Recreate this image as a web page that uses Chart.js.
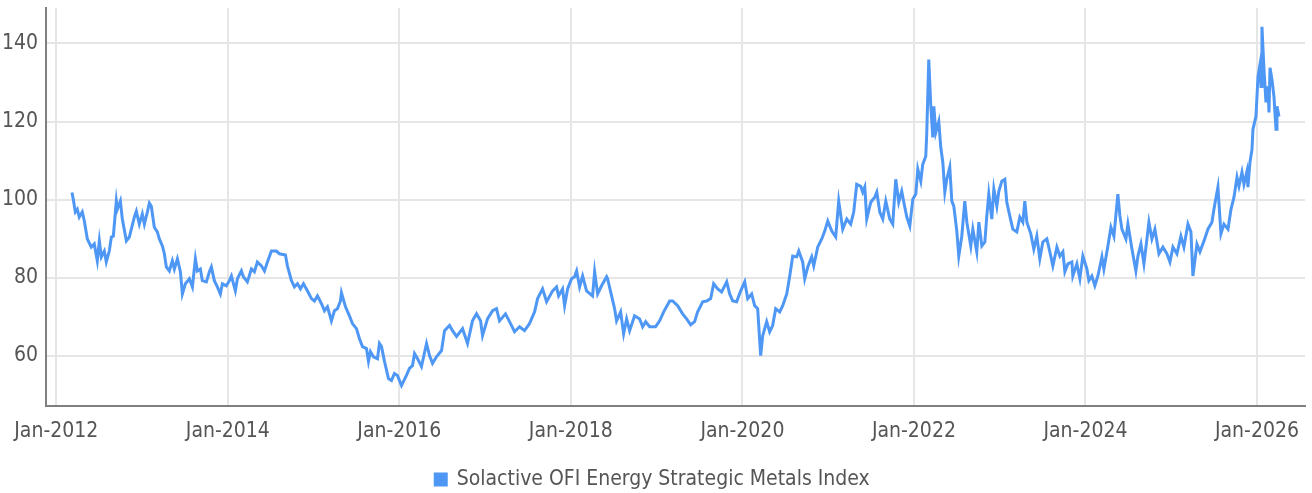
<!DOCTYPE html>
<html lang="en">
<head>
    <meta charset="UTF-8">
    <title>Solactive OFI Energy Strategic Metals Index</title>
    <script src="https://cdn.jsdelivr.net/npm/chart.js"></script>
    <style>
        body {
            margin: 0;
            background: #ffffff;
        }
        .chart-box {
            position: relative;
            width: 1312px;
            height: 493px;
        }
    </style>
</head>
<body>
    <div class="chart-box">
        <canvas id="indexChart"></canvas>
    </div>

    <script>
        // dates as decimal years
        const dates = [
            2012.183, 2012.198, 2012.222, 2012.245, 2012.268, 2012.303, 2012.327, 2012.362, 2012.408, 2012.443,
            2012.478, 2012.502, 2012.525, 2012.560, 2012.583, 2012.618, 2012.642, 2012.665, 2012.700, 2012.712,
            2012.747, 2012.770, 2012.817, 2012.852, 2012.910, 2012.933, 2012.968, 2013.003, 2013.027, 2013.062,
            2013.085, 2013.108, 2013.143, 2013.178, 2013.202, 2013.237, 2013.260, 2013.283, 2013.318, 2013.353,
            2013.377, 2013.412, 2013.447, 2013.470, 2013.505, 2013.552, 2013.587, 2013.622, 2013.645, 2013.680,
            2013.703, 2013.750, 2013.785, 2013.808, 2013.843, 2013.878, 2013.913, 2013.937, 2013.983, 2014.018,
            2014.042, 2014.088, 2014.112, 2014.158, 2014.182, 2014.228, 2014.275, 2014.310, 2014.345, 2014.392,
            2014.427, 2014.462, 2014.508, 2014.567, 2014.602, 2014.672, 2014.695, 2014.742, 2014.777, 2014.812,
            2014.847, 2014.882, 2014.928, 2014.975, 2015.010, 2015.045, 2015.092, 2015.127, 2015.162, 2015.208,
            2015.243, 2015.278, 2015.313, 2015.325, 2015.372, 2015.418, 2015.453, 2015.500, 2015.535, 2015.570,
            2015.617, 2015.640, 2015.663, 2015.698, 2015.745, 2015.768, 2015.792, 2015.827, 2015.873, 2015.908,
            2015.943, 2015.978, 2016.025, 2016.083, 2016.118, 2016.153, 2016.177, 2016.212, 2016.258, 2016.317,
            2016.352, 2016.387, 2016.433, 2016.492, 2016.527, 2016.585, 2016.620, 2016.667, 2016.737, 2016.795,
            2016.853, 2016.900, 2016.947, 2016.970, 2017.028, 2017.087, 2017.133, 2017.168, 2017.238, 2017.297,
            2017.343, 2017.402, 2017.460, 2017.518, 2017.577, 2017.612, 2017.670, 2017.717, 2017.787, 2017.833,
            2017.857, 2017.903, 2017.927, 2017.962, 2018.008, 2018.043, 2018.067, 2018.102, 2018.137, 2018.183,
            2018.253, 2018.277, 2018.312, 2018.358, 2018.417, 2018.428, 2018.475, 2018.510, 2018.533, 2018.580,
            2018.615, 2018.650, 2018.685, 2018.743, 2018.802, 2018.837, 2018.872, 2018.918, 2018.988, 2019.035,
            2019.082, 2019.152, 2019.187, 2019.245, 2019.303, 2019.350, 2019.397, 2019.443, 2019.478, 2019.537,
            2019.583, 2019.630, 2019.665, 2019.712, 2019.758, 2019.817, 2019.852, 2019.887, 2019.933, 2019.980,
            2020.027, 2020.062, 2020.108, 2020.143, 2020.178, 2020.213, 2020.237, 2020.283, 2020.318, 2020.353,
            2020.388, 2020.435, 2020.470, 2020.517, 2020.552, 2020.587, 2020.633, 2020.657, 2020.703, 2020.727,
            2020.762, 2020.808, 2020.832, 2020.878, 2020.925, 2020.960, 2020.995, 2021.042, 2021.088, 2021.123,
            2021.170, 2021.217, 2021.263, 2021.298, 2021.333, 2021.380, 2021.403, 2021.427, 2021.450, 2021.497,
            2021.543, 2021.567, 2021.602, 2021.637, 2021.672, 2021.718, 2021.753, 2021.788, 2021.823, 2021.858,
            2021.893, 2021.917, 2021.952, 2021.987, 2022.022, 2022.045, 2022.080, 2022.103, 2022.138, 2022.150,
            2022.173, 2022.197, 2022.220, 2022.232, 2022.255, 2022.290, 2022.313, 2022.337, 2022.360, 2022.383,
            2022.418, 2022.442, 2022.465, 2022.500, 2022.523, 2022.558, 2022.593, 2022.617, 2022.663, 2022.687,
            2022.733, 2022.757, 2022.792, 2022.827, 2022.850, 2022.873, 2022.908, 2022.932, 2022.967, 2022.990,
            2023.025, 2023.060, 2023.083, 2023.118, 2023.153, 2023.200, 2023.235, 2023.270, 2023.293, 2023.317,
            2023.363, 2023.398, 2023.433, 2023.468, 2023.503, 2023.550, 2023.585, 2023.620, 2023.667, 2023.702,
            2023.737, 2023.760, 2023.795, 2023.842, 2023.853, 2023.900, 2023.935, 2023.970, 2024.017, 2024.040,
            2024.075, 2024.110, 2024.145, 2024.192, 2024.215, 2024.262, 2024.297, 2024.332, 2024.378, 2024.402,
            2024.425, 2024.472, 2024.495, 2024.542, 2024.588, 2024.612, 2024.647, 2024.682, 2024.717, 2024.740,
            2024.775, 2024.810, 2024.857, 2024.903, 2024.950, 2024.985, 2025.020, 2025.067, 2025.113, 2025.148,
            2025.195, 2025.230, 2025.253, 2025.300, 2025.335, 2025.382, 2025.428, 2025.475, 2025.498, 2025.545,
            2025.580, 2025.615, 2025.662, 2025.697, 2025.732, 2025.767, 2025.790, 2025.825, 2025.848, 2025.883,
            2025.895, 2025.918, 2025.942, 2025.953, 2025.988, 2026.012, 2026.035, 2026.047, 2026.058, 2026.082,
            2026.105, 2026.128, 2026.140, 2026.152, 2026.175, 2026.198, 2026.222, 2026.233, 2026.257
        ];
        const values = [
            101.8, 100.1, 96.8, 97.5, 95.5, 96.8, 94.5, 89.9, 87.8, 88.6,
            84.3, 89.4, 85.3, 86.8, 84.0, 86.8, 90.4, 90.6, 99.6, 97.5,
            99.6, 95.0, 89.4, 90.4, 95.5, 97.0, 93.7, 96.3, 93.7, 96.8,
            99.1, 98.3, 92.9, 91.7, 89.9, 88.1, 86.1, 82.7, 81.7, 84.3,
            82.2, 84.8, 81.5, 75.8, 78.4, 79.7, 77.6, 84.8, 81.7, 82.2,
            79.2, 78.9, 81.5, 82.7, 79.2, 77.6, 75.8, 78.4, 77.9, 79.2,
            80.4, 76.6, 79.7, 81.7, 80.2, 78.9, 82.2, 81.5, 84.0, 83.0,
            81.7, 84.0, 86.8, 86.8, 86.1, 85.8, 83.0, 79.2, 77.6, 78.4,
            77.1, 78.4, 76.6, 74.6, 74.0, 75.3, 73.3, 71.5, 72.5, 68.9,
            71.5, 72.0, 74.0, 76.1, 72.5, 70.2, 68.2, 66.9, 64.3, 62.3,
            61.8, 58.5, 61.0, 59.7, 59.2, 63.1, 62.3, 58.5, 54.1, 53.6,
            55.4, 54.9, 52.3, 54.9, 56.7, 57.4, 60.5, 59.2, 57.2, 63.1,
            60.0, 58.0, 59.7, 61.3, 66.4, 67.7, 66.4, 64.9, 66.9, 63.1,
            68.9, 70.7, 68.9, 65.1, 69.4, 71.5, 72.0, 68.9, 70.7, 68.2,
            66.1, 67.4, 66.4, 68.2, 71.2, 74.6, 77.1, 73.8, 76.6, 77.6,
            75.3, 77.1, 72.8, 77.1, 79.7, 80.2, 81.7, 77.6, 80.4, 76.6,
            75.3, 81.5, 75.8, 77.9, 80.2, 79.7, 75.3, 72.0, 68.9, 71.2,
            65.6, 69.4, 66.4, 70.2, 69.4, 67.4, 68.7, 67.4, 67.4, 68.9,
            71.2, 74.0, 74.0, 72.8, 70.7, 69.4, 67.9, 68.7, 71.2, 73.8,
            74.0, 74.6, 78.4, 77.1, 76.3, 78.9, 75.8, 74.0, 73.8, 76.6,
            78.9, 74.6, 75.8, 72.8, 72.0, 60.0, 65.1, 68.7, 66.1, 67.7,
            72.0, 71.2, 72.8, 75.8, 80.4, 85.5, 85.3, 86.8, 84.0, 79.7,
            82.7, 85.3, 83.0, 87.8, 89.9, 91.9, 94.5, 91.9, 90.4, 99.6,
            92.4, 95.0, 93.7, 96.8, 103.9, 103.4, 101.9, 103.2, 95.0, 99.3,
            100.6, 101.9, 96.8, 95.0, 99.6, 95.0, 93.7, 105.2, 99.3, 102.1,
            98.1, 95.5, 93.2, 100.1, 101.4, 107.8, 104.7, 109.0, 111.1, 117.2,
            135.9, 123.9, 115.9, 123.9, 117.2, 120.0, 113.4, 109.5, 101.9, 105.2,
            108.3, 99.6, 98.3, 91.9, 85.5, 90.6, 99.6, 94.2, 88.1, 92.4,
            86.6, 94.2, 88.1, 89.1, 95.8, 101.4, 95.0, 102.7, 98.3, 102.1,
            104.7, 105.2, 99.3, 95.8, 92.4, 91.7, 95.5, 94.2, 99.6, 94.2,
            91.2, 87.3, 90.6, 84.8, 89.1, 89.9, 86.6, 83.0, 87.8, 85.5,
            86.6, 81.5, 83.5, 84.0, 80.4, 83.5, 79.7, 85.5, 82.2, 79.2,
            80.4, 77.9, 80.4, 85.3, 82.2, 88.1, 92.9, 90.6, 101.4, 95.8,
            92.4, 89.9, 93.7, 87.3, 81.7, 85.5, 88.6, 83.5, 89.9, 94.2,
            89.9, 92.4, 86.1, 87.8, 86.1, 84.0, 87.8, 86.1, 90.6, 87.8,
            93.7, 91.7, 80.4, 88.6, 86.6, 89.4, 92.4, 94.2, 97.5, 103.2,
            91.2, 93.7, 92.4, 97.5, 100.6, 105.7, 103.4, 107.0, 103.9, 107.2,
            103.2, 109.5, 112.9, 118.0, 121.3, 131.5, 134.6, 129.0, 144.3, 133.3,
            124.9, 129.0, 122.3, 133.8, 130.7, 126.4, 118.0, 123.9, 121.3
        ];
        const tickYears = [2012, 2014, 2016, 2018, 2020, 2022, 2024, 2026];
        const tickValues = [60, 80, 100, 120, 140];

        const fontFamily = "'Liberation Sans Narrow', 'DejaVu Sans Condensed', sans-serif";
        const lineColor = "#4e97f4";
        const gridColor = "#e6e6e6";

        new Chart(document.getElementById("indexChart"), {
            type: 'line',
            data: {
                datasets: [{
                    label: "Solactive OFI Energy Strategic Metals Index",
                    data: dates.map((d, i) => ({ x: d, y: values[i] })),
                    borderColor: lineColor,
                    backgroundColor: lineColor,
                    borderWidth: 3,
                    pointRadius: 0,
                    tension: 0,
                    fill: false
                }]
            },
            options: {
                responsive: true,
                maintainAspectRatio: false,
                animation: false,
                layout: {
                    padding: { top: 8, right: 7, left: 0, bottom: -7 }
                },
                scales: {
                    x: {
                        type: 'linear',
                        min: 2011.88,
                        max: 2026.56,
                        afterBuildTicks: scale => {
                            scale.ticks = tickYears.map(v => ({ value: v }));
                        },
                        afterFit: scale => {
                            scale.height = 55.5;
                            scale.paddingLeft = 0;
                            scale.paddingRight = 0;
                        },
                        ticks: {
                            autoSkip: false,
                            maxRotation: 0,
                            padding: 13,
                            color: "#555555",
                            font: { family: fontFamily, size: 21 },
                            callback: v => "Jan-" + v
                        },
                        grid: { color: gridColor, lineWidth: 2, drawTicks: false },
                        border: { color: "#808080", width: 2 }
                    },
                    y: {
                        min: 47.2,
                        max: 149.1,
                        afterBuildTicks: scale => {
                            scale.ticks = tickValues.map(v => ({ value: v }));
                        },
                        afterFit: scale => {
                            scale.width = 46;
                            scale.paddingTop = 0;
                            scale.paddingBottom = 0;
                        },
                        ticks: {
                            padding: 8,
                            color: "#555555",
                            font: { family: fontFamily, size: 21 }
                        },
                        grid: { color: gridColor, lineWidth: 2, drawTicks: false },
                        border: { color: "#808080", width: 2 }
                    }
                },
                plugins: {
                    legend: {
                        position: 'bottom',
                        labels: {
                            boxWidth: 11,
                            boxHeight: 11,
                            padding: 8,
                            color: "#555555",
                            font: { family: fontFamily, size: 21 }
                        }
                    },
                    tooltip: { enabled: false }
                }
            }
        });
    </script>
</body>
</html>
